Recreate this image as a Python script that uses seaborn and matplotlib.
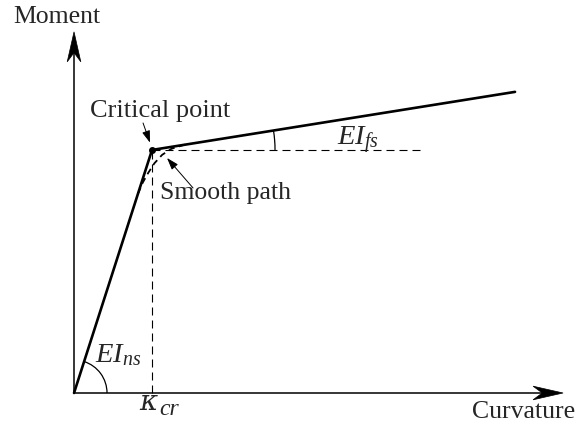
import numpy as np
import matplotlib
matplotlib.use("Agg")
import matplotlib.pyplot as plt
from matplotlib.patches import Arc, Polygon
from matplotlib import transforms
import seaborn as sns

# Bilinear moment-curvature model (normalised: kappa_cr = 1, M_cr = 1)
curvature = [0.0, 1.0, 5.654]
moment = [0.0, 1.0, 1.239]

# Smooth transition replacing the sharp corner at the critical point
smooth_k = [0.82, 0.88, 0.95, 1.03, 1.13, 1.25, 1.42]
smooth_m = [0.82, 0.865, 0.905, 0.945, 0.98, 1.005, 1.022]

k_cr, m_cr = curvature[1], moment[1]
flat_end = 4.474          # end of the horizontal reference line
x_tip, y_tip = 6.27, 1.486  # axis arrow tips

sns.set_theme(style="white")
plt.rcParams["font.family"] = ["Liberation Serif", "DejaVu Serif"]
plt.rcParams["mathtext.fontset"] = "custom"
plt.rcParams["mathtext.rm"] = "Liberation Serif"
plt.rcParams["mathtext.it"] = "Liberation Serif:italic"
plt.rcParams["mathtext.bf"] = "Liberation Serif:bold"

fig = plt.figure(figsize=(5.8, 4.25), dpi=100)
ax = fig.add_axes([0, 0, 1, 1])
ax.set_xlim(-0.949, 6.487)
ax.set_ylim(-0.1317, 1.617)
ax.axis("off")

px_x = 78.0   # pixels per curvature unit
px_y = 243.0  # pixels per moment unit


def arrow_head(x, y, angle, length=21.6, half_w=4.9, notch=15.0):
    """Notched filled arrow head (sizes in points) with its tip at (x, y)."""
    verts = np.array([[0, 0], [-length, half_w], [-notch, 0], [-length, -half_w]]) / 72.0
    tr = (transforms.Affine2D().rotate_deg(angle) + fig.dpi_scale_trans
          + transforms.ScaledTranslation(x, y, ax.transData))
    ax.add_patch(Polygon(verts, closed=True, transform=tr, facecolor="black",
                         edgecolor="black", lw=0.5, zorder=5))


# Axes with arrows
ax.plot([0, x_tip - 0.2], [0, 0], color="black", lw=1.1, solid_capstyle="butt")
ax.plot([0, 0], [0, y_tip - 0.05], color="black", lw=1.1, solid_capstyle="butt")
arrow_head(x_tip, 0, 0)
arrow_head(0, y_tip, 90)

# Dashed reference lines at the critical point
dash = (0, (7.2, 4.5))
ax.plot([k_cr, k_cr], [0, m_cr], color="black", lw=0.8, linestyle=dash)
ax.plot([k_cr, flat_end], [m_cr, m_cr], color="black", lw=0.8, linestyle=dash)

# Bilinear curve
sns.lineplot(x=curvature, y=moment, ax=ax, color="black", lw=1.9,
             solid_joinstyle="miter", zorder=4)

# Smooth path
ax.plot(smooth_k, smooth_m, color="black", lw=1.3, linestyle=(0, (3.5, 2.5)), zorder=4)

# Critical point marker
ax.plot([k_cr], [m_cr], "o", color="black", ms=4, zorder=6)

# Angle arcs for the two stiffnesses
r1 = 33.0
a1 = np.degrees(np.arctan2(moment[1] - moment[0], curvature[1] - curvature[0]))
ax.add_patch(Arc((curvature[0], moment[0]), 2 * r1 / px_x, 2 * r1 / px_y,
                 theta1=0, theta2=a1, color="black", lw=0.9))
r2 = 123.0
a2 = np.degrees(np.arctan2(moment[2] - moment[1], curvature[2] - curvature[1]))
ax.add_patch(Arc((k_cr, m_cr), 2 * r2 / px_x, 2 * r2 / px_y,
                 theta1=0, theta2=a2, color="black", lw=0.9))

fs = 18.5
ax.text(-0.782, 1.523, "Moment", fontsize=fs, ha="left", va="baseline")
ax.text(5.103, -0.103, "Curvature", fontsize=fs, ha="left", va="baseline")
ax.text(0.205, 1.136, "Critical point", fontsize=fs + 0.5, ha="left", va="baseline")
ax.text(1.103, 0.798, "Smooth path", fontsize=fs, ha="left", va="baseline")
# kappa_cr label: wide italic kappa with a large subscript
ax.text(0.83, -0.072, "\u03ba", family="DejaVu Serif", style="italic",
        fontsize=20, ha="left", va="baseline")
ax.text(1.09, -0.092, "cr", family="Liberation Serif", style="italic",
        fontsize=17, ha="left", va="baseline")
ax.text(0.27, 0.128, r"$EI_{ns}$", fontsize=fs + 2, ha="left", va="baseline")
ax.text(3.37, 1.021, r"$EI_{fs}$", fontsize=fs + 2, ha="left", va="baseline")

# Pointer arrows for the labels
ax.annotate("", xy=(0.974, 1.03), xytext=(0.885, 1.111),
            arrowprops=dict(arrowstyle="-|>,head_length=0.6,head_width=0.2",
                            color="black", lw=0.7, shrinkA=0, shrinkB=0))
ax.annotate("", xy=(1.192, 0.967), xytext=(1.526, 0.8436),
            arrowprops=dict(arrowstyle="-|>,head_length=0.6,head_width=0.2",
                            color="black", lw=0.7, shrinkA=0, shrinkB=0))

fig.savefig("out.png", dpi=100)
